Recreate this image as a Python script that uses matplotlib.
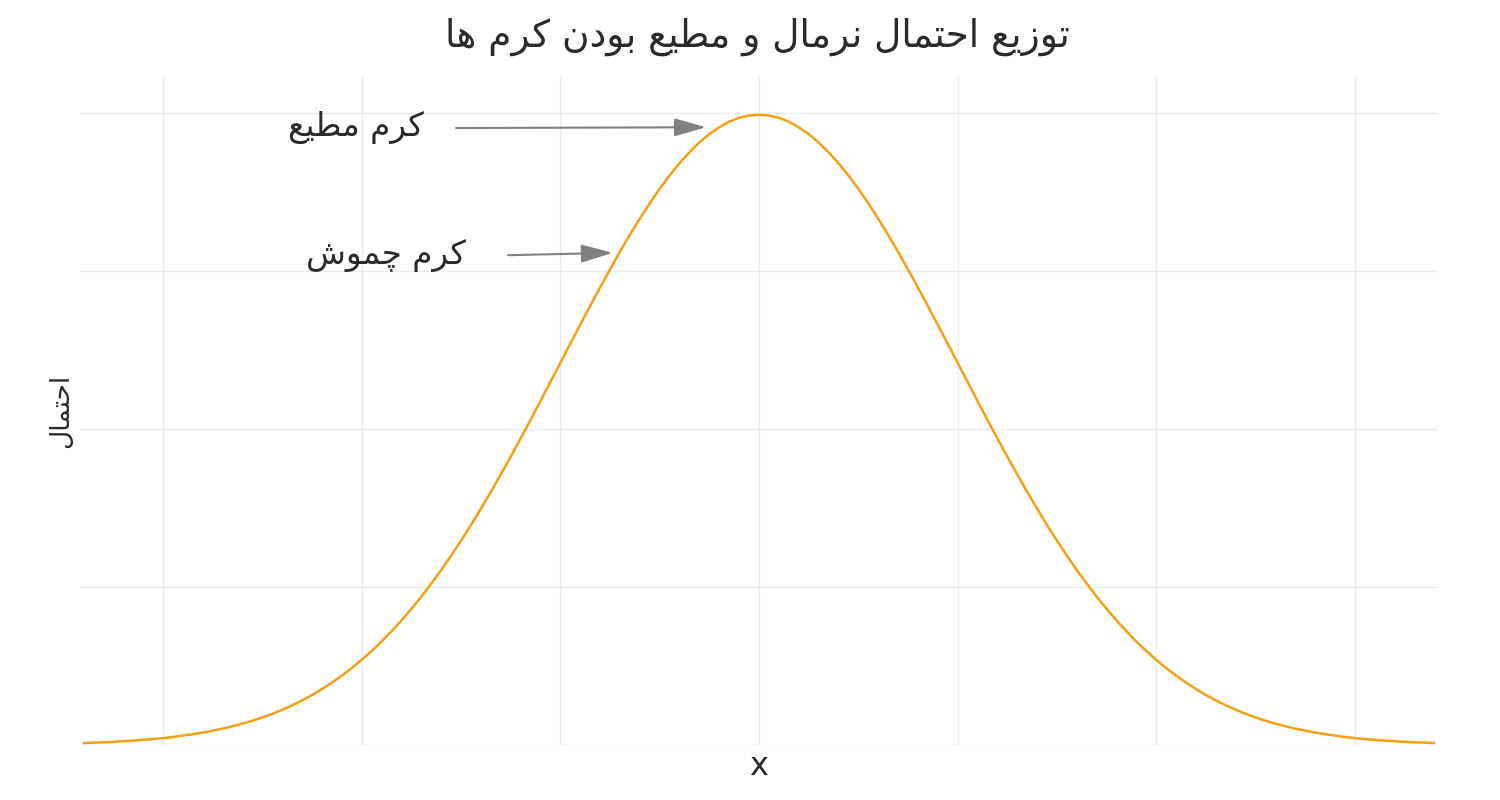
import numpy as np
import matplotlib
matplotlib.use("Agg")
import matplotlib.pyplot as plt

# values
x_vals = [-3.40, -3.35, -3.30, -3.25, -3.20, -3.15, -3.10, -3.05, -3.00, -2.95,
          -2.90, -2.85, -2.80, -2.75, -2.70, -2.65, -2.60, -2.55, -2.50, -2.45,
          -2.40, -2.35, -2.30, -2.25, -2.20, -2.15, -2.10, -2.05, -2.00, -1.95,
          -1.90, -1.85, -1.80, -1.75, -1.70, -1.65, -1.60, -1.55, -1.50, -1.45,
          -1.40, -1.35, -1.30, -1.25, -1.20, -1.15, -1.10, -1.05, -1.00, -0.95,
          -0.90, -0.85, -0.80, -0.75, -0.70, -0.65, -0.60, -0.55, -0.50, -0.45,
          -0.40, -0.35, -0.30, -0.25, -0.20, -0.15, -0.10, -0.05, 0.00,
          0.05, 0.10, 0.15, 0.20, 0.25, 0.30, 0.35, 0.40, 0.45, 0.50,
          0.55, 0.60, 0.65, 0.70, 0.75, 0.80, 0.85, 0.90, 0.95, 1.00,
          1.05, 1.10, 1.15, 1.20, 1.25, 1.30, 1.35, 1.40, 1.45, 1.50,
          1.55, 1.60, 1.65, 1.70, 1.75, 1.80, 1.85, 1.90, 1.95, 2.00,
          2.05, 2.10, 2.15, 2.20, 2.25, 2.30, 2.35, 2.40, 2.45, 2.50,
          2.55, 2.60, 2.65, 2.70, 2.75, 2.80, 2.85, 2.90, 2.95, 3.00,
          3.05, 3.10, 3.15, 3.20, 3.25, 3.30, 3.35, 3.40]
y_vals = [0.0012, 0.0015, 0.0017, 0.0020, 0.0024, 0.0028, 0.0033, 0.0038, 0.0044, 0.0051,
          0.0060, 0.0069, 0.0079, 0.0091, 0.0104, 0.0119, 0.0136, 0.0154, 0.0175, 0.0198,
          0.0224, 0.0252, 0.0283, 0.0317, 0.0355, 0.0396, 0.0440, 0.0488, 0.0540, 0.0596,
          0.0656, 0.0721, 0.0790, 0.0863, 0.0940, 0.1023, 0.1109, 0.1200, 0.1295, 0.1394,
          0.1497, 0.1604, 0.1714, 0.1826, 0.1942, 0.2059, 0.2179, 0.2299, 0.2420, 0.2541,
          0.2661, 0.2780, 0.2897, 0.3011, 0.3123, 0.3230, 0.3332, 0.3429, 0.3521, 0.3605,
          0.3683, 0.3752, 0.3814, 0.3867, 0.3910, 0.3945, 0.3970, 0.3984, 0.3989,
          0.3984, 0.3970, 0.3945, 0.3910, 0.3867, 0.3814, 0.3752, 0.3683, 0.3605, 0.3521,
          0.3429, 0.3332, 0.3230, 0.3123, 0.3011, 0.2897, 0.2780, 0.2661, 0.2541, 0.2420,
          0.2299, 0.2179, 0.2059, 0.1942, 0.1826, 0.1714, 0.1604, 0.1497, 0.1394, 0.1295,
          0.1200, 0.1109, 0.1023, 0.0940, 0.0863, 0.0790, 0.0721, 0.0656, 0.0596, 0.0540,
          0.0488, 0.0440, 0.0396, 0.0355, 0.0317, 0.0283, 0.0252, 0.0224, 0.0198, 0.0175,
          0.0154, 0.0136, 0.0119, 0.0104, 0.0091, 0.0079, 0.0069, 0.0060, 0.0051, 0.0044,
          0.0038, 0.0033, 0.0028, 0.0024, 0.0020, 0.0017, 0.0015, 0.0012]

x_ticks = [-3, -2, -1, 0, 1, 2, 3]
y_ticks = [0.0, 0.1, 0.2, 0.3, 0.4]

title_text = "توزیع احتمال نرمال و مطیع بودن کرم ها"
x_label = "x"
y_label = "احتمال"

# annotations: label, text position, arrow tail, arrow head
notes = [
    ("کرم مطیع", (-2.03, 0.391), (-1.526, 0.3905), (-0.267, 0.391)),
    ("کرم چموش", (-1.88, 0.310), (-1.264, 0.310), (-0.736, 0.3115)),
]

# matplotlib has no arabic shaping, so pick presentation forms by hand
FORMS = {
    "ا": ("\uFE8D", "\uFE8E"),
    "د": ("\uFEA9", "\uFEAA"),
    "ر": ("\uFEAD", "\uFEAE"),
    "ز": ("\uFEAF", "\uFEB0"),
    "و": ("\uFEED", "\uFEEE"),
    "ب": ("\uFE8F", "\uFE90", "\uFE91", "\uFE92"),
    "ت": ("\uFE95", "\uFE96", "\uFE97", "\uFE98"),
    "ح": ("\uFEA1", "\uFEA2", "\uFEA3", "\uFEA4"),
    "ش": ("\uFEB5", "\uFEB6", "\uFEB7", "\uFEB8"),
    "ط": ("\uFEC1", "\uFEC2", "\uFEC3", "\uFEC4"),
    "ع": ("\uFEC9", "\uFECA", "\uFECB", "\uFECC"),
    "ل": ("\uFEDD", "\uFEDE", "\uFEDF", "\uFEE0"),
    "م": ("\uFEE1", "\uFEE2", "\uFEE3", "\uFEE4"),
    "ن": ("\uFEE5", "\uFEE6", "\uFEE7", "\uFEE8"),
    "ه": ("\uFEE9", "\uFEEA", "\uFEEB", "\uFEEC"),
    "ی": ("\uFBFC", "\uFBFD", "\uFBFE", "\uFBFF"),
    "ک": ("\uFB8E", "\uFB8F", "\uFB90", "\uFB91"),
    "چ": ("\uFB7A", "\uFB7B", "\uFB7C", "\uFB7D"),
}


def shape(s):
    out = []
    for i, ch in enumerate(s):
        if ch not in FORMS:
            out.append(ch)
            continue
        f = FORMS[ch]
        prev = s[i - 1] if i > 0 else ""
        nxt = s[i + 1] if i + 1 < len(s) else ""
        join_prev = prev in FORMS and len(FORMS[prev]) == 4
        join_next = len(f) == 4 and nxt in FORMS
        if join_prev and join_next:
            out.append(f[3])
        elif join_prev:
            out.append(f[1])
        elif join_next:
            out.append(f[2])
        else:
            out.append(f[0])
    return "".join(out)[::-1]


plt.rcParams["font.family"] = ["DejaVu Sans"]

fig = plt.figure(figsize=(15, 8), dpi=100)
ax = fig.add_axes([80 / 1500, 55 / 800, 1358 / 1500, 668 / 800])

ax.plot(x_vals, y_vals, color="#f2a115", lw=1.8, zorder=3)

ax.set_xlim(-3.42, 3.42)
ax.set_ylim(0, 0.4228)
ax.set_xticks(x_ticks)
ax.set_yticks(y_ticks)
ax.grid(True, color="#ebebeb", lw=1)
ax.tick_params(length=0, labelbottom=False, labelleft=False)
for sp in ax.spines.values():
    sp.set_visible(False)
ax.set_axisbelow(True)

ax.set_xlabel(x_label, fontsize=23, color="#2a2a2a", labelpad=4)
ax.set_ylabel(shape(y_label), fontsize=19, color="#2a2a2a", labelpad=4)
fig.text(0.505, 1 - 37 / 800, shape(title_text), fontsize=27, color="#2a2a2a",
         ha="center", va="center")

for label, tpos, tail, head in notes:
    ax.text(tpos[0], tpos[1], shape(label), fontsize=23.5, color="#2a2a2a",
            ha="center", va="center")
    ax.annotate("", xy=head, xytext=tail,
                arrowprops=dict(arrowstyle="-|>,head_length=1.4,head_width=0.4",
                                mutation_scale=14, color="#808080", lw=1.5,
                                shrinkA=0, shrinkB=0))

fig.savefig("out.png", dpi=100, facecolor="white")
